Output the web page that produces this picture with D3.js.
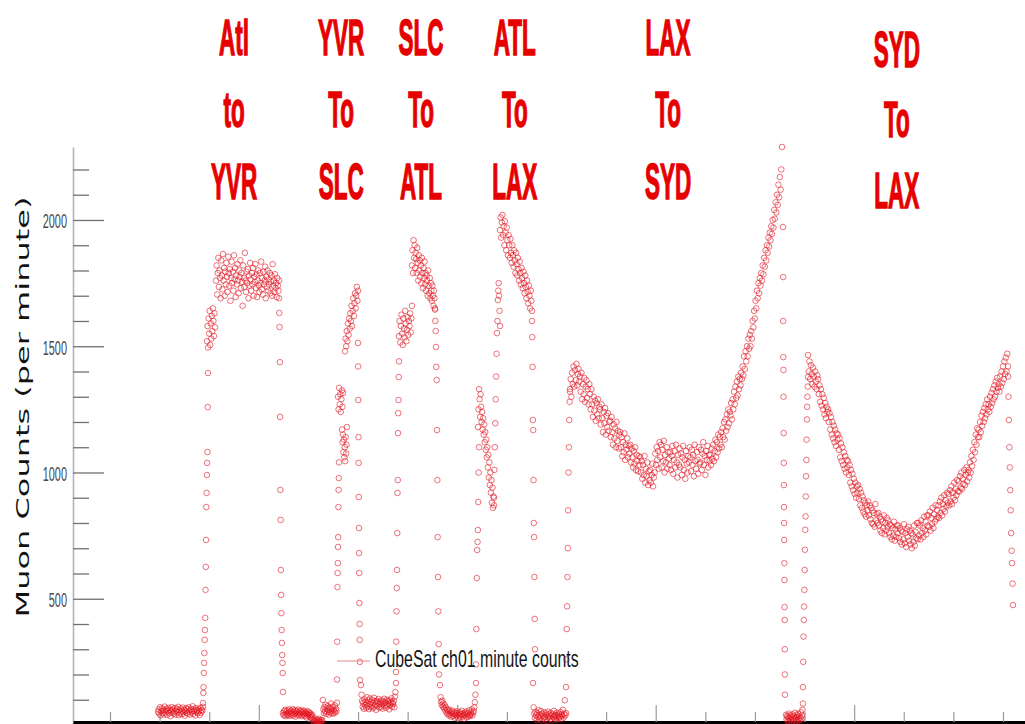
<!DOCTYPE html>
<html><head><meta charset="utf-8">
<script src="https://cdn.jsdelivr.net/npm/d3@7"></script>
<style>body{margin:0;background:#fff}svg{display:block}</style>
</head><body><svg id="c" width="1025" height="724"></svg>
<script>
// ---- data: minute counts per flight phase ----
const groundATL = [52,61,45,70,38,55,66,48,59,42,73,50,57,64,40,55,68,47,60,35,58,71,49,62,44,53,67,41,56,63,50,72,39,58,46,65,54,43,69,51,60,37,57,66,48,62,45,70,53,41,59,64,50,74,44,56,61,38,67,52,58,47,63,55,40,68,49,60,57,72];
const climbATL = [87,127,150,206,246,285,337,376,424,535,626,733,863,919,990,1038,1081,1259,1394];
const cruiseATL1 = [1520,1580,1495,1610,1550,1640,1505,1590,1530,1620,1560,1650,1600,1540,1630,1575];
const cruiseATL2 = [1760,1820,1705,1790,1850,1735,1800,1770,1690,1840,1780,1725,1865,1760,1810,1700,1795,1745,1830,1775,1715,1855,1790,1740,1805,1680,1770,1835,1750,1795,1720,1860,1765,1810,1695,1780,1745,1825,1760,1710,1800,1775,1840,1730,1790,1755,1660,1820,1770,1735,1870,1760,1715,1795,1750,1805,1690,1780,1740,1830,1765,1720,1790,1745,1810,1700,1775,1755,1825,1730,1785,1695,1760,1800,1740,1715,1790,1750,1835,1725,1770,1705,1795,1745,1760,1815,1690,1775,1735,1800,1720,1765,1745,1790,1710,1755,1780,1700,1825,1740,1760,1715,1785,1730,1750,1695,1770,1740,1720,1760];
const descentATL = [1690,1632,1576,1437,1220,931,812,614,515,443,376,325,277,246,206,131];
const groundYVR = [48,38,55,42,60,35,51,44,58,39,47,62,36,53,45,57,40,49,63,37,52,44,59,33,48,56,41,50,61,38,46,54,43,58,35,49,52,40,57,44,36,53,47,30,45,55,38,42,50,33,46,39,28,41,35,22,12,18,8,25,15,10,20,6,17,13,24,9,16,11,21,14,19,99,62,48,71,55,80,44,66,52,75,58,41,69,50,63,85,47,57,72,45,60,53,78,49,65,56,88];
const climbYVR = [180,330,546,602,641,705,744,863,931,978,1040];
const cruiseYVR1 = [1300,1250,1335,1270,1310,1240,1290,1325,1260,1315];
const cruiseYVR2 = [1170,1120,1150,1080,1130,1060,1100,1045,1140,1075,1110,1180];
const cruiseYVR3 = [1480,1530,1500,1560,1520,1590,1545,1610,1570,1630,1600,1660,1580,1640,1690,1620,1670,1710,1650,1700,1735,1680,1720];
const descentYVR = [1513,1420,1287,1140,1038,903,780,681,602,483,400,337,250,178];
const groundSLC = [158,120,95,72,88,64,101,79,92,68,85,110,74,97,63,83,105,70,90,77,99,66,86,108,73,94,81,60,96,75,89,103,69,84,92,71,98,80,65,93,87,104,76,91,68,82,100,74,95,85,62,97,78,90,106,72,88,83,96,70,112,130,166];
const climbSLC = [210,330,450,542,614,760,919,970,1156,1235,1287,1378,1440];
const cruiseSLC1 = [1540,1600,1515,1580,1625,1550,1505,1610,1570,1535,1640,1590,1520,1565,1615,1545,1600,1580,1630,1555,1610,1660];
const cruiseSLC2 = [1820,1880,1790,1920,1850,1900,1810,1870,1845,1790,1890,1830,1760,1860,1800,1840,1775,1820,1750,1850,1790,1730,1810,1770,1835,1745,1790,1720,1780,1760,1700,1800,1740,1710,1770,1690,1750,1720,1680,1740,1700,1660,1720,1690,1650];
const descentSLC = [1645,1600,1560,1497,1418,1366,1168,970,744,586,450,320,200];
const groundATL2 = [158,110,92,80,96,72,85,66,78,58,70,49,62,44,55,38,60,42,51,33,47,57,36,44,52,29,41,48,35,54,40,27,46,38,50,31,43,56,34,45,39,25,48,37,53,30,42,47,33,58,40,36,51,44,62,38,49,55,70,90,120,166];
const climbATL2 = [240,380,582,693,725,772,883,1000,1100];
const cruiseATLLAX1 = [1180,1250,1330,1290,1220,1310,1260,1200,1240,1170,1215,1150,1190,1120,1160,1090,1130,1060,1100,1020,1070,980,1040,950,1000,920,970,880,940,860,905,870];
const climbATL3 = [900,1010,1100,1195,1290,1380,1470,1552,1600,1683,1720,1750,1700,1640,1580];
const cruiseATLLAX2 = [1960,2010,1930,1990,2020,1940,1975,1900,1995,1950,1880,1970,1920,1860,1940,1900,1850,1925,1870,1830,1900,1860,1815,1880,1840,1790,1870,1825,1780,1850,1805,1760,1835,1790,1745,1810,1770,1730,1795,1750,1710,1780,1735,1690,1760,1715,1670,1740,1700,1650,1720,1680,1640];
const descentATLLAX = [1600,1536,1418,1208,1168,970,800,744,586,420,300];
const groundLAX = [166,70,45,28,52,38,20,47,33,58,25,41,30,55,18,44,36,27,50,32,22,46,39,15,53,29,42,34,24,48,37,19,43,31,56,26,40,35,21,49,30,38,45,28,33,51,23,41,36,60,29,44,98,38,47];
const climbLAX = [150,260,380,470,586,700,850,1000,1100,1208,1280,1330];
const cruiseLAXSYD = [
1320,1370,1300,1395,1350,1420,1340,1405,1365,1430,1345,1390,1410,1360,
1380,1320,1395,1290,1350,1310,1375,1280,1340,1365,1295,1330,1270,1350,
1310,1250,1330,1270,1220,1300,1245,1285,1205,1275,1230,1290,1215,1260,
1250,1190,1270,1215,1160,1240,1195,1255,1150,1225,1180,1235,1165,1200,
1205,1140,1220,1160,1110,1190,1135,1175,1100,1200,1125,1165,1095,1150,
1160,1100,1140,1065,1120,1080,1155,1050,1110,1090,1135,1060,1105,1075,
1110,1040,1095,1060,1020,1085,1035,1100,1010,1070,1045,1005,1065,1030,
1060,1000,1045,975,1030,990,1065,960,1015,985,1040,950,1005,970,
1010,960,990,1035,945,980,1000,1075,1030,1100,1050,1085,1015,1120,
1060,1110,1020,1090,1045,1125,1000,1070,1040,1100,1015,1080,1055,1030,
1080,1010,1065,1105,995,1050,1085,1020,1110,1040,980,1070,1030,1095,
1020,1075,990,1060,1105,1010,1050,975,1085,1035,1000,1065,1040,1100,
1060,1005,1090,1030,1070,985,1110,1045,1015,1080,1050,995,1100,1035,
1040,1090,1010,1075,1120,1030,1065,990,1085,1050,1105,1020,1070,1045,
1070,1030,1095,1055,1110,1045,1085,1130,1060,1120,1080,1150,1095,1140,
1110,1160,1100,1175,1140,1200,1130,1210,1165,1230,1180,1250,1195,1240,
1225,1275,1210,1290,1250,1320,1270,1340,1295,1360,1305,1380,1330,1370,
1345,1395,1370,1420,1385,1460,1410,1480,1440,1500,1460,1530,1490,1545,
1500,1560,1530,1600,1575,1640,1610,1680,1650,1720,1690,1750,1710,1770,
1740,1790,1760,1820,1785,1850,1815,1880,1840,1900,1870,1930,1895,1950,
1920,1975,1945,2000,1970,2040,2005,2070,2030,2100,2060,2140,2090,2170,2120,2200,2289];
const descentLAXSYD = [1972,1774,1600,1457,1406,1300,1156,1038,950,863,800,733,641,574,467,416,300,200,120];
const groundSYD = [40,22,35,15,30,45,12,28,38,20,33,10,42,25,18,36,27,48,14,31,22,39,17,44,26,34,19,29,50,24,37,60,85];
const climbSYD = [150,250,350,416,469,535,614,694,773,826,905,985,1050,1130,1210,1260,1300,1340,1378];
const cruiseSYDLAX = [
1465,1400,1440,1370,1425,1390,1350,1415,1380,1340,1400,1360,1330,1385,
1370,1310,1345,1280,1330,1265,1310,1250,1295,1230,1275,1215,1260,1240,
1250,1200,1235,1170,1220,1150,1200,1135,1185,1120,1170,1105,1155,1130,
1150,1090,1135,1060,1115,1045,1100,1030,1080,1015,1065,1000,1050,1020,
1045,990,1030,960,1010,945,995,930,975,915,960,900,945,920,
950,895,935,870,920,860,905,845,890,835,880,825,870,850,
885,830,870,815,860,800,850,795,840,785,875,810,835,800,
840,790,825,770,815,760,805,780,830,755,800,770,820,785,
810,760,795,745,790,735,780,750,805,730,775,745,790,760,
790,740,780,725,770,715,765,735,795,720,760,705,775,745,
785,730,770,715,760,700,755,725,790,710,765,740,800,735,
800,750,790,735,810,760,780,745,825,770,805,755,830,790,
830,785,845,770,820,795,860,780,835,805,870,815,850,825,
870,820,885,840,900,830,875,855,910,845,890,865,920,880,
915,870,930,885,945,875,920,900,960,890,935,910,970,925,
965,925,985,940,1000,935,975,955,1010,950,990,1020,965,1000,
1010,980,1040,1000,1065,1025,1090,1050,1120,1080,1150,1110,1175,1140,
1170,1140,1200,1160,1225,1185,1240,1200,1255,1215,1270,1230,1290,1250,
1270,1240,1300,1260,1315,1275,1330,1290,1345,1300,1360,1320,1375,1335,
1350,1320,1380,1340,1400,1355,1420,1370,1440,1390,1455,1400,1470,1420];
const descentSYDLAX = [1380,1300,1208,1100,1020,930,850,760,690,641,560,475];

// time span (hours) of each recorded phase
const phaseStart = [0.968,1.875,1.955,2.137,3.407,3.487,4.576,4.596,4.677,4.737,4.999,5.059,5.765,5.825,6.087,6.551,6.652,7.378,7.418,7.740,7.861,8.506,8.527,9.192,9.272,13.566,13.626,13.969,14.070,18.101];
const phaseEnd   = [1.875,1.975,2.117,3.407,3.487,4.576,4.616,4.697,4.777,4.999,5.039,5.765,5.825,6.087,6.551,6.632,7.378,7.438,7.740,7.861,8.506,8.567,9.192,9.272,13.546,13.606,13.969,14.070,18.101,18.202];
const phaseCounts = [groundATL,climbATL,cruiseATL1,cruiseATL2,descentATL,groundYVR,climbYVR,cruiseYVR1,cruiseYVR2,cruiseYVR3,descentYVR,groundSLC,climbSLC,cruiseSLC1,cruiseSLC2,descentSLC,groundATL2,climbATL2,cruiseATLLAX1,climbATL3,cruiseATLLAX2,descentATLLAX,groundLAX,climbLAX,cruiseLAXSYD,descentLAXSYD,groundSYD,climbSYD,cruiseSYDLAX,descentSYDLAX];

const legWords = [["Atl","to","YVR"],["YVR","To","SLC"],["SLC","To","ATL"],["ATL","To","LAX"],["LAX","To","SYD"],["SYD","To","LAX"]];
const legCenter = [2.50,4.66,6.27,8.16,11.25,15.86];
const yMajor = [500,1000,1500,2000];
const yMinor = [100,200,300,400,600,700,800,900,1100,1200,1300,1400,1600,1700,1800,1900,2100,2200];
const xTicks = d3.range(0,19);
const seriesName = "CubeSat ch01 minute counts";
const yTitle = "Muon Counts (per minute)";

// ---- drawing ----
const svg = d3.select("#c");
const x = d3.scaleLinear().domain([-0.746, 18.444]).range([73, 1025]);
const y = d3.scaleLinear().domain([0, 2289]).range([725, 147]);

const pts = [];
phaseCounts.forEach((arr, k) => {
  const n = arr.length;
  arr.forEach((v, i) => {
    const t = phaseStart[k] + (phaseEnd[k] - phaseStart[k]) * (n > 1 ? i / (n - 1) : 0);
    pts.push({t, v});
  });
});

// y axis
const gy = svg.append("g").attr("transform", "translate(73,0)");
gy.call(d3.axisRight(y).tickValues(yMinor).tickSize(16).tickSizeOuter(0).tickFormat(""));
const gy2 = svg.append("g").attr("transform", "translate(73,0)");
gy2.call(d3.axisLeft(y).tickValues(yMajor).tickSize(-31).tickSizeOuter(0).tickPadding(0).tickFormat(d3.format("d")));
gy2.select(".domain").remove();
gy.select(".domain").attr("stroke", "#b4b4b4").attr("stroke-width", 1.6);
svg.selectAll("g .tick line").attr("stroke", "#707070").attr("stroke-width", 1.3);
gy2.selectAll(".tick text")
  .attr("x", null).attr("dy", null)
  .attr("transform", "translate(-6,8) scale(0.52,1)")
  .attr("text-anchor", "end")
  .attr("font-family", "Liberation Sans, Arial, sans-serif")
  .attr("font-size", 21)
  .attr("fill", "#4a4a4a");

// x axis
const gx = svg.append("g").attr("transform", "translate(0,722)");
gx.call(d3.axisBottom(x).tickValues(xTicks).tickSize(-10).tickSizeOuter(0).tickFormat(""));
gx.selectAll(".tick line").attr("stroke", "#9a9a9a").attr("stroke-width", 1.2)
  .attr("y2", d => (d % 4 === 3 ? -17 : -10));
gx.select(".domain").attr("stroke", "#000").attr("stroke-width", 3.2);

// points
svg.append("g").selectAll("circle").data(pts).join("circle")
  .attr("cx", d => x(d.t)).attr("cy", d => y(d.v)).attr("r", 2.8)
  .attr("fill", "none").attr("stroke", "#e2141f")
  .attr("stroke-opacity", 0.6).attr("stroke-width", 1);

// y title
svg.append("text")
  .attr("transform", "translate(29,407) scale(0.55,1) rotate(-90)")
  .attr("text-anchor", "middle")
  .attr("font-family", "DejaVu Sans, Verdana, sans-serif")
  .attr("font-size", 32).attr("fill", "#111")
  .text(yTitle);

// legend
svg.append("line").attr("x1", 337).attr("x2", 370).attr("y1", 661).attr("y2", 661)
  .attr("stroke", "#e38a8a").attr("stroke-width", 1.2);
svg.append("text")
  .attr("transform", "translate(375,667) scale(0.69,1)")
  .attr("font-family", "Liberation Sans, Arial, sans-serif")
  .attr("font-size", 23).attr("fill", "#151515")
  .text(seriesName);

// flight leg labels
const rowBase = i => (i === 5 ? [67,137,208] : [55,127,199]);
legWords.forEach((words, i) => {
  words.forEach((w, j) => {
    svg.append("text")
      .attr("transform", `translate(${x(legCenter[i])},${rowBase(i)[j]}) scale(0.45,1)`)
      .attr("text-anchor", "middle")
      .attr("font-family", "Liberation Sans, Arial, sans-serif")
      .attr("font-weight", "bold").attr("font-size", 50)
      .attr("fill", "#e60000").attr("stroke", "#e60000").attr("stroke-width", 1.5)
      .text(w);
  });
});
</script></body></html>
